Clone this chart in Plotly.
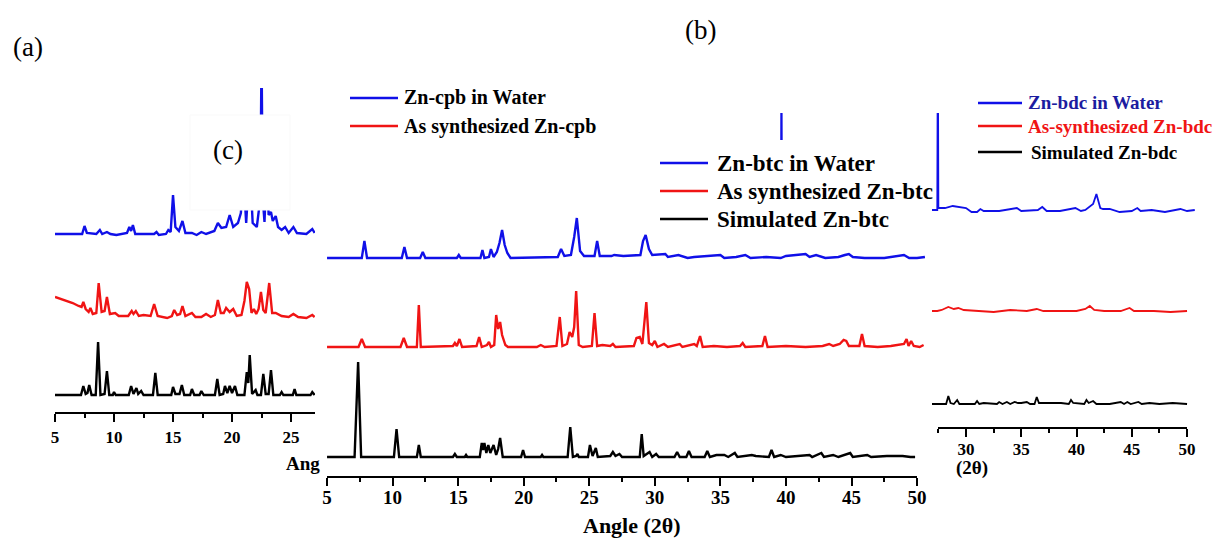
import plotly.graph_objects as go

W, H = 1219, 541
FONT = "Liberation Serif"
BLUE = "#1010e8"
RED = "#f01414"
BLACK = "#000000"

# ---------------- data (angle 2θ, stacked intensity a.u.) ----------------
# (a)/(c) Zn-cpb
cpb_water = [(5.0,179),(7.3,179),(7.5,187),(7.7,180),(8.5,179),(8.8,183),(9.0,179),(9.4,181),(9.7,179),
             (10.2,178),(11.1,180),(11.3,186),(11.45,182),(11.6,188),(11.8,179),(13.4,179),(13.6,181),
             (13.8,178),(14.4,179),(14.6,183),(14.8,181),(15.0,218),(15.2,186),(15.5,182),(15.8,192),
             (16.05,180),(16.6,180),(17.0,178),(17.4,181),(17.8,179),(18.5,182),(18.8,190),(19.1,185),
             (19.5,186),(19.8,198),(20.1,186),(20.5,190),(20.75,200),(20.95,240),(21.2,190),(21.5,250),
             (21.75,190),(22.1,186),(22.4,215),(22.5,360),(22.6,215),(22.75,191),(22.95,250),(23.1,198),
             (23.3,201),(23.45,192),(23.7,197),(23.9,186),(24.2,183),(24.5,186),(24.8,180),(25.2,186),
             (25.5,180),(26.3,179),(26.8,184),(27.0,180)]
cpb_synth = [(5.0,116),(5.5,114),(6.0,112),(6.5,110),(7.0,107),(7.25,106),(7.4,111),(7.6,104),(7.85,101),
             (8.0,105),(8.2,99),(8.5,100),(8.7,130),(8.95,101),(9.2,102),(9.4,116),(9.65,99),(10.1,100),
             (10.4,97),(11.2,97),(11.5,102),(11.65,99),(11.85,102),(12.1,97),(12.5,98),(13.1,97),(13.4,109),
             (13.7,97),(14.5,95),(14.9,97),(15.1,103),(15.35,98),(15.6,99),(15.8,107),(16.05,97),(16.6,100),
             (16.9,96),(17.4,96),(17.8,99),(18.2,96),(18.55,98),(18.8,113),(19.05,100),(19.3,100),(19.5,105),
             (19.8,101),(20.1,104),(20.4,97),(20.8,98),(21.05,112),(21.25,131),(21.45,124),(21.65,100),
             (21.85,104),(22.05,99),(22.25,104),(22.45,121),(22.65,103),(22.85,100),(23.15,130),(23.4,100),
             (23.7,100),(24.2,97),(24.8,96),(25.2,99),(25.6,96),(26.3,95),(26.8,98),(27.0,96)]
cpb_sim = [(5.0,18),(7.2,18),(7.4,27),(7.6,19),(7.75,20),(7.9,28),(8.1,18),(8.45,18),(8.65,71),(8.85,18),
           (9.2,19),(9.4,42),(9.6,18),(9.9,18),(10.0,21),(10.15,18),(11.25,18),(11.45,27),(11.65,19),
           (11.9,25),(12.05,19),(12.3,22),(12.5,18),(13.3,18),(13.5,40),(13.7,18),(14.85,18),(15.0,26),
           (15.2,19),(15.55,19),(15.75,28),(15.95,18),(16.45,18),(16.6,24),(16.8,18),(17.25,18),(17.4,22),
           (17.6,18),(18.55,18),(18.75,34),(18.95,18),(19.25,19),(19.4,27),(19.6,20),(19.8,27),(20.0,20),
           (20.25,27),(20.45,18),(21.05,18),(21.25,41),(21.38,30),(21.5,58),(21.7,19),(22.0,23),(22.15,18),
           (22.45,18),(22.65,39),(22.85,19),(23.1,19),(23.3,43),(23.5,18),(24.05,18),(24.2,21),(24.35,18),
           (25.15,18),(25.3,24),(25.45,18),(26.65,18),(26.8,21),(27.0,18)]

# (b) Zn-btc
btc_water = [(5.0,219),(7.65,219),(7.85,236),(8.05,219),(10.7,219),(10.9,230),(11.1,219),(12.1,219),
             (12.3,225),(12.5,219),(14.9,219),(15.05,222),(15.2,219),(16.7,219),(16.85,227),(17.0,219),
             (17.35,220),(17.5,228),(17.7,220),(17.95,225),(18.15,234),(18.35,247),(18.55,232),(18.75,224),
             (19.0,219),(22.6,220),(22.85,228),(23.1,221),(23.6,222),(23.85,240),(24.05,259),(24.3,226),
             (24.6,221),(25.4,221),(25.6,236),(25.8,221),(26.7,221),(26.9,222),(27.6,221),(28.9,222),
             (29.1,236),(29.3,242),(29.55,228),(29.8,222),(30.8,223),(31.0,220),(31.8,222),(32.5,219),
             (33.0,220),(34.1,221),(35.0,222),(35.3,219),(36.2,220),(36.9,222),(37.3,219),(38.5,220),
             (39.6,219),(40.0,221),(40.8,222),(41.5,223),(41.8,220),(42.3,222),(43.0,219),(44.0,220),
             (44.5,222),(44.8,223),(45.1,220),(46.0,219),(47.5,219),(48.6,221),(49.0,222),(49.4,219),
             (50.0,219),(50.6,220)]
btc_synth = [(5.0,130),(7.4,130),(7.65,138),(7.9,130),(10.6,130),(10.85,139),(11.1,130),(11.85,130),
             (12.0,172),(12.15,130),(14.6,131),(14.75,134),(14.9,131),(15.1,138),(15.3,130),(16.4,131),
             (16.6,140),(16.8,130),(17.2,132),(17.35,135),(17.5,130),(17.75,132),(17.9,162),(18.05,148),
             (18.2,155),(18.35,142),(18.6,132),(18.8,130),(21.0,130),(21.3,132),(21.6,130),(22.5,131),
             (22.75,160),(22.95,131),(23.3,133),(23.5,145),(23.7,140),(23.85,150),(24.0,186),(24.2,132),
             (24.5,130),(25.2,131),(25.4,164),(25.6,131),(26.0,132),(26.6,131),(26.8,133),(27.0,130),
             (28.4,131),(28.6,139),(28.85,140),(29.05,133),(29.35,175),(29.55,134),(29.8,132),(30.0,136),
             (30.2,130),(30.7,133),(31.0,130),(31.9,133),(32.1,130),(33.0,133),(33.2,131),(33.45,141),
             (33.65,130),(34.5,131),(35.5,130),(36.5,131),(36.7,134),(36.9,130),(38.2,131),(38.4,141),
             (38.6,130),(40.0,131),(41.5,130),(42.8,131),(43.3,133),(43.6,131),(44.1,133),(44.4,137),
             (44.6,136),(44.8,131),(45.6,131),(45.8,143),(46.0,131),(47.0,130),(48.0,131),(49.0,133),
             (49.2,138),(49.35,131),(49.55,136),(49.75,131),(50.2,130),(50.5,132)]
btc_sim = [(5.0,20),(7.1,20),(7.37,115),(7.6,20),(10.1,20),(10.3,48),(10.5,20),(11.85,20),(12.0,32),
           (12.15,20),(14.6,20),(14.75,23),(14.9,20),(15.5,20),(15.6,22),(15.7,20),(16.65,20),(16.8,34),
           (16.9,27),(17.0,34),(17.15,24),(17.3,32),(17.45,24),(17.7,32),(17.9,22),(18.05,28),(18.2,39),
           (18.4,20),(19.8,20),(19.95,27),(20.1,20),(21.3,20),(21.4,22),(21.5,20),(23.35,20),(23.55,50),
           (23.75,20),(24.0,21),(24.1,23),(24.2,20),(24.9,20),(25.05,32),(25.25,21),(25.5,29),(25.65,20),
           (26.6,21),(26.8,25),(27.0,21),(27.3,23),(27.5,20),(28.85,20),(29.0,43),(29.15,21),(29.6,25),
           (29.8,20),(30.1,23),(30.3,20),(31.5,20),(31.7,25),(31.9,20),(32.4,20),(32.6,26),(32.8,20),
           (33.8,20),(34.0,26),(34.2,20),(34.7,22),(35.3,22),(35.6,20),(36.1,24),(36.3,20),(37.4,22),
           (37.7,21),(38.7,20),(38.9,27),(39.1,20),(39.6,22),(40.0,20),(41.8,22),(42.0,20),(42.7,24),
           (42.9,20),(43.6,22),(44.0,20),(44.9,24),(45.1,20),(46.2,22),(46.5,20),(47.7,21),(48.9,21),
           (49.5,20),(49.85,20)]

# Zn-bdc
bdc_water = [(5.9,218),(13.25,218),(13.3,400),(13.35,218),(27.4,218),(27.45,400),(27.5,220),(28.1,220),
             (28.8,222),(29.3,221),(30.0,220),(30.5,216),(31.0,216),(31.3,219),(31.6,217),(33.0,217),
             (34.6,220),(35.0,217),(36.5,218),(36.9,221),(37.3,217),(38.5,217),(39.9,220),(40.4,217),
             (40.8,218),(41.5,224),(41.8,234),(42.15,220),(42.4,219),(43.0,219),(43.9,216),(45.0,217),
             (45.5,220),(45.8,217),(46.8,218),(48.0,216),(48.6,217),(49.4,219),(50.0,217),(50.7,218)]
bdc_synth = [(5.9,117),(27.4,117),(27.8,118),(28.4,121),(28.9,119),(29.3,120),(29.8,118),(31.0,117),
             (32.5,116),(34.0,118),(35.5,117),(36.4,119),(37.0,117),(38.5,117),(40.0,117),(40.8,119),
             (41.2,122),(41.6,118),(42.5,117),(44.0,117),(44.8,120),(45.2,117),(47.0,117),(48.5,116),
             (50.0,117)]
bdc_sim = [(5.9,24),(28.2,24),(28.4,32),(28.6,25),(28.9,24),(29.2,28),(29.4,24),(30.8,24),(31.0,27),
           (31.2,24),(31.6,25),(32.8,24),(33.0,26),(33.3,24),(33.7,26),(34.0,24),(34.4,26),(34.7,25),
           (35.0,25),(35.5,26),(35.8,24),(36.2,24),(36.4,31),(36.6,25),(37.4,25),(38.6,25),(39.3,24),
           (39.5,28),(39.7,25),(40.7,24),(40.9,28),(41.1,25),(41.5,27),(41.8,24),(43.0,24),(44.0,26),
           (44.3,24),(44.6,26),(44.9,24),(45.6,26),(45.9,24),(46.6,25),(47.5,24),(48.7,25),(50.0,24)]

tick_vals = [5, 10, 15, 20, 25, 30, 35, 40, 45, 50]
axis_title = "Angle (2θ)"

# ---------------- figure ----------------
fig = go.Figure()

def add(series, color, xa, ya, width=2.4):
    fig.add_trace(go.Scatter(x=[p[0] for p in series], y=[p[1] for p in series], mode="lines",
                             line=dict(color=color, width=width), xaxis=xa, yaxis=ya,
                             showlegend=False, hoverinfo="skip"))

# left panel (Zn-cpb) -> x/y
add(cpb_water, BLUE, "x", "y")
add(cpb_synth, RED, "x", "y")
add(cpb_sim, BLACK, "x", "y")
# right panel (Zn-bdc) -> x2/y2
add(bdc_water, BLUE, "x2", "y2", 1.8)
add(bdc_synth, RED, "x2", "y2", 1.8)
add(bdc_sim, BLACK, "x2", "y2", 1.8)
# middle panel (Zn-btc) -> x3/y3 (drawn on top)
add(btc_water, BLUE, "x3", "y3")
add(btc_synth, RED, "x3", "y3")
add(btc_sim, BLACK, "x3", "y3")

def px_x(p):
    return p / W

def px_y(p):
    return 1 - p / H

def xaxis(dom, rng, size, standoff):
    return dict(domain=[px_x(dom[0]), px_x(dom[1])], range=rng, showgrid=False, zeroline=False,
                showline=False, ticks="outside", ticklen=8, tickwidth=2, tickcolor="black",
                tickmode="array", tickvals=tick_vals, ticktext=["<b>%d</b>" % v for v in tick_vals],
                minor=dict(ticks="outside", ticklen=4, tickwidth=2, tickcolor="black", dtick=2.5, tick0=5),
                tickfont=dict(family=FONT, size=size, color="black"),
                ticklabelstandoff=standoff, fixedrange=True)

def yaxis(dom, rng):
    return dict(domain=[px_y(dom[1]), px_y(dom[0])], range=rng, visible=False, showgrid=False,
                zeroline=False, fixedrange=True)

fig.update_layout(
    width=W, height=H, margin=dict(l=0, r=0, t=0, b=0),
    paper_bgcolor="white", plot_bgcolor="white", template="none", showlegend=False,
    xaxis=dict(xaxis((55, 315), [5, 27.03], 17, 1), anchor="y"),
    yaxis=dict(yaxis((88, 413), [0, 325]), anchor="x"),
    xaxis2=dict(xaxis((700, 1195), [5.93, 50.72], 17, -2), anchor="y2"),
    yaxis2=dict(yaxis((113, 428), [0, 315]), anchor="x2"),
    xaxis3=dict(xaxis((318, 932), [4.31, 51.14], 19, -5), anchor="y3"),
    yaxis3=dict(yaxis((140, 477), [0, 337]), anchor="x3"),
)

shapes = []

def hline(x0, x1, y, color, width):
    shapes.append(dict(type="line", xref="paper", yref="paper", x0=px_x(x0), x1=px_x(x1),
                       y0=px_y(y), y1=px_y(y), line=dict(color=color, width=width), layer="above"))

# axis lines (span of the labelled range of each panel)
hline(55, 315, 413, "black", 2.2)
hline(327, 917, 477, "black", 2.2)
hline(938, 1187, 428, "black", 2.2)
# white label box of panel (c)
shapes.append(dict(type="rect", xref="paper", yref="paper", x0=px_x(190), x1=px_x(290),
                   y0=px_y(210), y1=px_y(115), fillcolor="white", line=dict(color="#f9f9f9", width=1),
                   layer="above"))

annotations = []

def text(x, y, s, size, color="black", bold=True, xanchor="left"):
    annotations.append(dict(x=px_x(x), y=px_y(y), xref="paper", yref="paper", text=s, showarrow=False,
                            xanchor=xanchor, yanchor="middle",
                            font=dict(family=FONT, size=size, color=color,
                                      weight="bold" if bold else "normal")))

def legend_row(x0, x1, y, tx, label, lcolor, size, tcolor="black"):
    hline(x0, x1, y, lcolor, 2.5)
    text(tx, y, label, size, tcolor)

# panel letters
text(28, 47, "(a)", 27, bold=False, xanchor="center")
text(700, 30, "(b)", 27, bold=False, xanchor="center")
text(228, 150, "(c)", 27, bold=False, xanchor="center")

# legends
legend_row(350, 398, 98, 402, "Zn-cpb in Water", BLUE, 20)
legend_row(350, 398, 126, 402, "As synthesized Zn-cpb", RED, 20)

legend_row(660, 708, 163, 715, "Zn-btc in Water", BLUE, 23)
legend_row(660, 708, 191, 715, "As synthesized Zn-btc", RED, 23)
legend_row(660, 708, 219, 715, "Simulated Zn-btc", BLACK, 23)

legend_row(978, 1022, 103, 1026, "Zn-bdc in Water", BLUE, 19, "#1c1ca0")
legend_row(978, 1022, 126, 1026, "As-synthesized Zn-bdc", RED, 19, RED)
legend_row(978, 1022, 152, 1029, "Simulated Zn-bdc", BLACK, 19)

# axis titles (left and right ones are partly hidden behind the middle panel)
text(632, 525, axis_title, 22, xanchor="center")
text(284, 463, "Ang", 19)
text(954, 468, "(2θ)", 19)

fig.update_layout(shapes=shapes, annotations=annotations)
fig.write_html("out.html")
